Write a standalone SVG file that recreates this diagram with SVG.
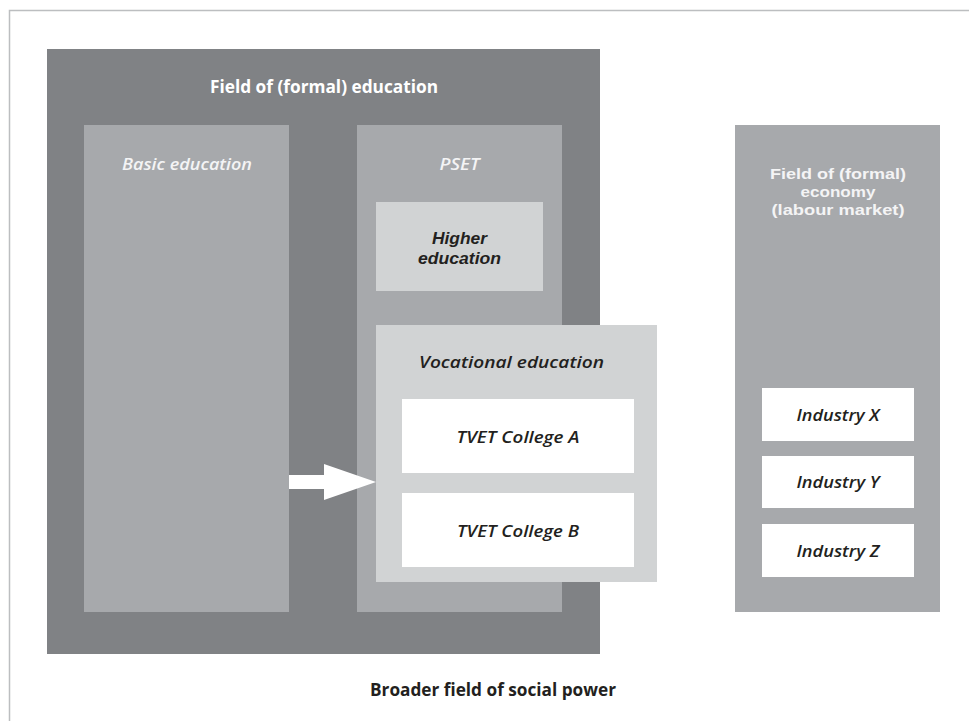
<svg xmlns="http://www.w3.org/2000/svg" width="969" height="721" viewBox="0 0 969 721">
<style>
  .t { font-family: "Open Sans", "Liberation Sans", sans-serif; text-anchor: middle; }
  .ml { font-family: "Liberation Sans", Arial, sans-serif; text-anchor: middle; }
  .hd { font-weight: 700; fill: #ffffff; }
  .it { font-style: italic; font-weight: 600; }
  .lt { fill: #f4f4f5; }
  .dk { fill: #231f20; }
  .dark { fill: #808285; }
  .mid { fill: #a7a9ac; }
  .light { fill: #d1d3d4; }
  .white { fill: #ffffff; }
</style>
<rect width="969" height="721" fill="#ffffff"/>
<g id="frame">
  <rect x="9.5" y="10.5" width="980" height="730" fill="none" stroke="#bcbec0" stroke-width="1.5"/>
  <text class="t dk" x="493" y="696" font-size="18.5" font-weight="700" textLength="246" lengthAdjust="spacingAndGlyphs">Broader field of social power</text>
</g>
<g id="field-education">
  <rect class="dark" x="47" y="49" width="553" height="605"/>
  <text class="t hd" x="324" y="93" font-size="18" textLength="228" lengthAdjust="spacingAndGlyphs">Field of (formal) education</text>
</g>
<g id="basic-education">
  <rect class="mid" x="84" y="125" width="205" height="487"/>
  <text class="t it lt" x="187" y="170" font-size="16.5" textLength="130" lengthAdjust="spacingAndGlyphs">Basic education</text>
</g>
<g id="pset">
  <rect class="mid" x="357" y="125" width="205" height="487"/>
  <text class="t it lt" x="459.5" y="170" font-size="16.5" textLength="40" lengthAdjust="spacingAndGlyphs">PSET</text>
</g>
<g id="higher-education">
  <rect class="light" x="376" y="202" width="167" height="89"/>
  <text class="ml dk" font-size="16.5" font-style="italic" font-weight="700"><tspan x="459.5" y="244" textLength="55" lengthAdjust="spacingAndGlyphs">Higher</tspan><tspan x="459.5" y="264" textLength="83" lengthAdjust="spacingAndGlyphs">education</tspan></text>
</g>
<g id="vocational-education">
  <rect class="light" x="376" y="325" width="281" height="257"/>
  <text class="t it dk" x="511.5" y="368" font-size="16.5" textLength="185" lengthAdjust="spacingAndGlyphs">Vocational education</text>
</g>
<g id="tvet-a">
  <rect class="white" x="402" y="399" width="232" height="74"/>
  <text class="t it dk" x="518" y="443" font-size="17" textLength="123" lengthAdjust="spacingAndGlyphs">TVET College A</text>
</g>
<g id="tvet-b">
  <rect class="white" x="402" y="493" width="232" height="74"/>
  <text class="t it dk" x="518" y="537" font-size="17" textLength="122" lengthAdjust="spacingAndGlyphs">TVET College B</text>
</g>
<g id="field-economy">
  <rect class="mid" x="735" y="125" width="205" height="487"/>
  <text class="ml lt" font-size="15.5" font-weight="700"><tspan x="838" y="179" textLength="136" lengthAdjust="spacingAndGlyphs">Field of (formal)</tspan><tspan x="838" y="197" textLength="75" lengthAdjust="spacingAndGlyphs">economy</tspan><tspan x="838" y="215" textLength="133" lengthAdjust="spacingAndGlyphs">(labour market)</tspan></text>
</g>
<g id="industry-x">
  <rect class="white" x="762" y="388" width="152" height="53"/>
  <text class="t it dk" x="838" y="421" font-size="16" textLength="83" lengthAdjust="spacingAndGlyphs">Industry X</text>
</g>
<g id="industry-y">
  <rect class="white" x="762" y="456" width="152" height="52"/>
  <text class="t it dk" x="838" y="488" font-size="16" textLength="83" lengthAdjust="spacingAndGlyphs">Industry Y</text>
</g>
<g id="industry-z">
  <rect class="white" x="762" y="524" width="152" height="53"/>
  <text class="t it dk" x="838" y="557" font-size="16" textLength="83" lengthAdjust="spacingAndGlyphs">Industry Z</text>
</g>
<g id="connectors">
  <polygon points="289,475 324,475 324,464 376,482 324,500 324,489 289,489" fill="#ffffff"/>
</g>
</svg>
